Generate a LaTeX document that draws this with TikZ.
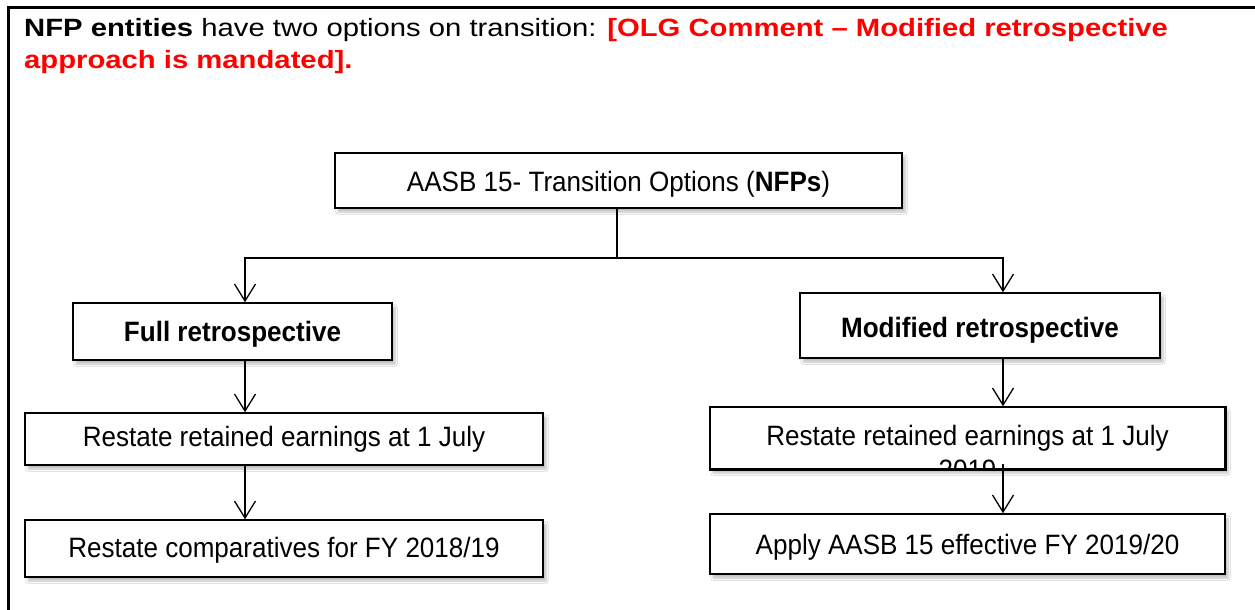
\documentclass[tikz,border=0pt]{standalone}
\usepackage{fontspec}
\setmainfont{Liberation Sans}
% heading face is set wide, box labels slightly narrow
\newfontfamily\headfont{Liberation Sans}[FakeStretch=1.17]
\newfontfamily\boxfont{Liberation Sans}[FakeStretch=0.93]
\usetikzlibrary{arrows.meta,shadows.blur}

\begin{document}
\begin{tikzpicture}[x=1pt,y=-1pt,
  box/.style={draw, line width=1.5pt, fill=white, inner sep=0pt,
    blur shadow={shadow xshift=3pt, shadow yshift=-4pt,
      shadow blur steps=6, shadow opacity=25}},
  % baseline sits #1 below the middle of the box
  drop/.style={text height=2*#1, text depth=0pt},
  lbl/.style={font=\boxfont\fontsize{28}{30}\selectfont},
  conn/.style={line width=1.3pt},
  arr/.style={conn, -{Straight Barb[length=17pt,width=21pt]}}]
\useasboundingbox (0,0) rectangle (1255,610);
\fill[white] (0,0) rectangle (1255,610);

% frame of the text box
\draw[line width=3pt] (8.5,610) -- (8.5,8) -- (1255,8);

% heading
\node[anchor=north west, inner sep=0pt, align=left,
  font=\headfont\fontsize{25}{32}\selectfont] (head) at (24,18)
  {\textbf{NFP entities} have two options on transition: \textcolor{red}{\textbf{[OLG Comment – Modified retrospective}}\\
   \textcolor{red}{\textbf{approach is mandated].}}};

% boxes
\node[box, minimum width=567pt, minimum height=55pt, lbl, drop=11pt] (top) at (618.5,180.5)
  {AASB 15- Transition Options (\textbf{NFPs})};
\node[box, minimum width=319pt, minimum height=57pt, lbl, drop=10pt] (full) at (232.5,331.5)
  {\textbf{Full retrospective}};
\node[box, minimum width=360pt, minimum height=65pt, lbl, drop=11.5pt] (mod) at (980,325.5)
  {\textbf{Modified retrospective}};
\node[box, minimum width=518pt, minimum height=52pt, lbl, drop=7pt] (lr1) at (284,439)
  {Restate retained earnings at 1 July};
\node[box, minimum width=518pt, minimum height=57pt, lbl, drop=9pt] (lr2) at (284,548.5)
  {Restate comparatives for FY 2018/19};
\node[box, minimum width=515pt, minimum height=62pt] (rr1) at (967.5,438) {};
\node[box, minimum width=515pt, minimum height=60pt, lbl, drop=10pt] (app) at (967.5,544)
  {Apply AASB 15 effective FY 2019/20};

% the wrapped label runs past the bottom of its box and is cut off there
\begin{scope}
  \clip (rr1.south west) rectangle (rr1.north east);
  \node[lbl, anchor=base, inner sep=0pt, align=center,
    font=\boxfont\fontsize{28}{34}\selectfont] (rr1t) at (967.5,479)
    {Restate retained earnings at 1 July\\ 2019};
\end{scope}
\draw[line width=1.5pt] (rr1.south west) rectangle (rr1.north east);

% connectors
\coordinate (j) at (617,258);
\coordinate (jl) at (245,258);
\coordinate (jr) at (1003,258);
\draw[conn] (top.south -| j) -- (j);
\draw[arr] (j) -- (jl) -- (jl |- full.north);
\draw[arr] (j) -- (jr) -- (jr |- mod.north);
\draw[arr] (full.south -| jl) -- (lr1.north -| jl);
\draw[arr] (lr1.south -| jl) -- (lr2.north -| jl);
\draw[arr] (mod.south -| jr) -- (rr1.north -| jr);
\draw[arr] ([yshift=6pt]rr1.south -| jr) -- (app.north -| jr);
\end{tikzpicture}
\end{document}
